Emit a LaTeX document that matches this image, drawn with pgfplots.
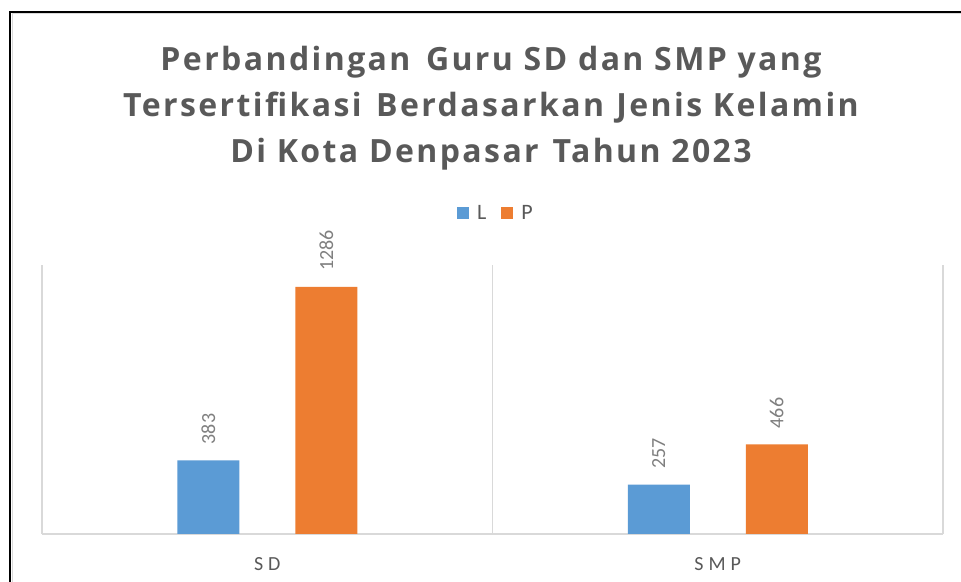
\documentclass[border=0pt]{standalone}
\usepackage{pgfplots}
\pgfplotsset{compat=1.18}
\usepackage{fontspec}
\setmainfont{Carlito}
\newfontfamily\titlefont[LetterSpace=7.5]{Open Sans}
\newfontfamily\catfont[LetterSpace=25]{Carlito}
\definecolor{cblue}{HTML}{5B9BD5}
\definecolor{corange}{HTML}{ED7D31}
\definecolor{titlegray}{HTML}{595959}
\definecolor{labelgray}{HTML}{7F7F7F}
\definecolor{gridgray}{HTML}{D9D9D9}
\begin{document}
\begin{tikzpicture}[x=0.75pt,y=0.75pt]
\useasboundingbox (0,0) rectangle (961,582);
\fill[white] (0,0) rectangle (961,582);
\draw[gridgray, line width=1.2pt] (12.5,0) -- (12.5,568.5) -- (961,568.5);
\draw[black, line width=1.9pt] (9.8,0) -- (9.8,570.2) -- (961,570.2);
\begin{scope}[every node/.style={anchor=base, text=titlegray, font=\titlefont\bfseries\fontsize{24}{28}\selectfont}]
\node at (491,511) {Perbandingan\hspace{0.15em} Guru SD dan SMP yang};
\node at (491,465.5) {Tersertifikasi\hspace{0.12em} Berdasarkan\hspace{0.05em} Jenis Kelamin};
\node at (491,419.5) {Di Kota Denpasar\hspace{0.1em} Tahun 2023};
\end{scope}
\begin{axis}[
  at={(31.5pt,36pt)}, anchor=south west,
  scale only axis, width=675.75pt, height=201.75pt,
  ybar=42pt, bar width=46.5pt,
  xmin=-0.5, xmax=1.5, ymin=0, ymax=1400,
  enlargelimits=false, clip=false,
  axis y line=none, axis x line=bottom,
  x axis line style={-, draw=gridgray, line width=1.1pt},
  xtick={0,1}, xticklabels={SD,SMP},
  xtick style={draw=none},
  xticklabel style={font=\catfont\fontsize{15}{18}\selectfont, text=titlegray, inner sep=0pt, anchor=north, yshift=-15.5pt},
  extra x ticks={-0.5,0.5,1.5}, extra x tick labels={},
  extra x tick style={grid=major, major grid style={draw=gridgray, line width=1.1pt}, tick style={draw=none}},
  nodes near coords,
  /pgf/number format/assume math mode=true,
  /pgf/number format/1000 sep={},
  every node near coord/.append style={rotate=90, anchor=west, inner xsep=12pt, inner ysep=0pt, font=\fontsize{15}{18}\selectfont, text=labelgray},
  legend columns=2,
  legend style={at={(0.504,1.193)}, anchor=center, draw=none, fill=none, font=\fontsize{16.5}{19}\selectfont, text=titlegray, /tikz/every odd column/.append style={column sep=4pt}, /tikz/every even column/.append style={column sep=9pt}},
  legend image code/.code={\fill[#1] (0pt,-4.6pt) rectangle (9.2pt,4.6pt);},
]
\addplot[fill=cblue, draw=none] coordinates {(0,383) (1,257)};
\addplot[fill=corange, draw=none] coordinates {(0,1286) (1,466)};
\legend{L,P}
\end{axis}
\end{tikzpicture}
\end{document}
